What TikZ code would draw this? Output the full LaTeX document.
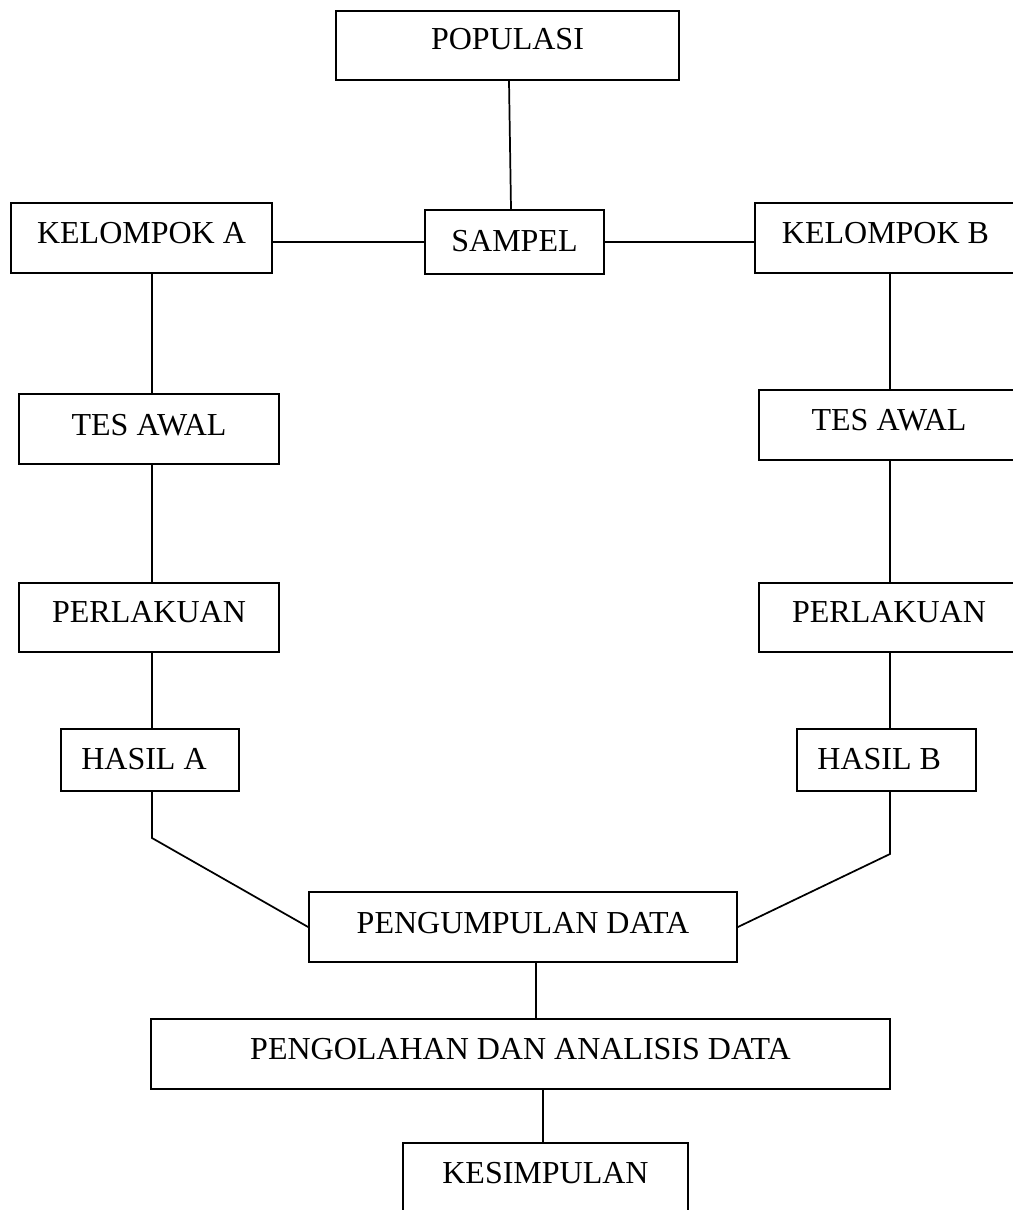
\documentclass[tikz,border=0pt]{standalone}
\usepackage{fontspec}
\setmainfont{Liberation Serif}
\usetikzlibrary{calc}
\begin{document}
\begin{tikzpicture}[x=0.75pt,y=-0.75pt,
  bx/.style={draw, line width=1.3pt, inner sep=0pt, text height=15.9pt, font=\fontsize{24}{28}\selectfont},
  sz/.style n args={3}{minimum width=#1*0.75pt, minimum height=#2*0.75pt, text depth=#3*1.5pt},
  ln/.style={line width=1.3pt, line join=miter}]
\useasboundingbox (0,0) rectangle (1013,1210);
\clip (0,0) rectangle (1013,1210);
% boxes
\node[bx, sz={343}{69}{6.5}] (pop) at (507.5,45.5) {POPULASI};
\node[bx, sz={179}{64}{1.5}] (sam) at (514.5,242) {SAMPEL};
\node[bx, sz={261}{70}{5}] (ka) at (141.5,238) {KELOMPOK A};
\node[bx, sz={261}{70}{5}] (kb) at (885.5,238) {KELOMPOK B};
\node[bx, sz={260}{70}{4.5}] (ta) at (149,429) {TES AWAL};
\node[bx, sz={260}{70}{5}] (tb) at (889,425) {TES AWAL};
\node[bx, sz={260}{69}{5.5}] (pa) at (149,617.5) {PERLAKUAN};
\node[bx, sz={260}{69}{5.5}] (pb) at (889,617.5) {PERLAKUAN};
\node[bx, sz={178}{62}{1.5}] (ha) at (150,760) {HASIL A\kern9pt};
\node[bx, sz={179}{62}{1.5}] (hb) at (886.5,760) {HASIL B\kern11pt};
\node[bx, sz={428}{70}{4}] (pd) at (523,927) {PENGUMPULAN DATA};
\node[bx, sz={739}{70}{5.5}] (po) at (520.5,1054) {PENGOLAHAN DAN ANALISIS DATA};
\node[bx, sz={285}{70}{5}] (kes) at (545.5,1178) {KESIMPULAN};
% helper coordinates
\coordinate (lx) at (152,0);
\coordinate (rx) at (890,0);
\coordinate (bl) at (152,838);
\coordinate (br) at (890,854);
\coordinate (c1) at (536,0);
\coordinate (c2) at (543,0);
% connectors
\draw[ln] ($(pop.south)+(1.5,0)$) -- ($(sam.north)+(-3.5,0)$);
\draw[ln] (ka.east |- sam.west) -- (sam.west);
\draw[ln] (sam.east) -- (sam.east -| kb.west);
\draw[ln] (ka.south -| lx) -- (ta.north -| lx);
\draw[ln] (ta.south -| lx) -- (pa.north -| lx);
\draw[ln] (pa.south -| lx) -- (ha.north -| lx);
\draw[ln] (kb.south -| rx) -- (tb.north -| rx);
\draw[ln] (tb.south -| rx) -- (pb.north -| rx);
\draw[ln] (pb.south -| rx) -- (hb.north -| rx);
\draw[ln] (ha.south -| bl) -- (bl) -- (pd.west);
\draw[ln] (hb.south -| br) -- (br) -- (pd.east);
\draw[ln] (pd.south -| c1) -- (po.north -| c1);
\draw[ln] (po.south -| c2) -- (kes.north -| c2);
\end{tikzpicture}
\end{document}
